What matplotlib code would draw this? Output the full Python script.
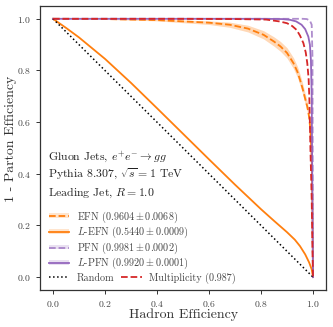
import numpy as np
import matplotlib.pyplot as plt
from matplotlib.patches import Patch

plt.rcParams['font.family'] = 'serif'
plt.rcParams['font.serif'] = ['cmr10']
plt.rcParams['mathtext.fontset'] = 'cm'
plt.rcParams['axes.formatter.use_mathtext'] = True

# ROC curves: x = hadron efficiency, y = 1 - parton efficiency
efn_x = [0, 0.2, 0.4, 0.5, 0.6, 0.68, 0.75, 0.81, 0.85, 0.875, 0.9, 0.925, 0.94,
         0.95, 0.96, 0.97, 0.978, 0.985, 0.99, 0.995, 0.998, 1.0]
efn_y = [1.0, 0.999, 0.995, 0.99, 0.985, 0.977, 0.962, 0.938, 0.912, 0.893, 0.868,
         0.828, 0.795, 0.764, 0.73, 0.69, 0.66, 0.62, 0.57, 0.46, 0.25, 0.0]
efn_err = [0, 0.001, 0.003, 0.005, 0.007, 0.010, 0.013, 0.016, 0.018, 0.019, 0.020,
           0.021, 0.021, 0.021, 0.021, 0.020, 0.019, 0.018, 0.016, 0.012, 0.008, 0]

lefn_x = [0, 0.05, 0.1, 0.2, 0.3, 0.4, 0.5, 0.6, 0.7, 0.8, 0.85, 0.9, 0.93, 0.95,
          0.97, 0.985, 0.995, 1.0]
lefn_y = [1.0, 0.965, 0.928, 0.845, 0.752, 0.654, 0.555, 0.456, 0.358, 0.263,
          0.218, 0.174, 0.145, 0.12, 0.088, 0.057, 0.03, 0.0]

pfn_x = [0, 0.9, 0.96, 0.976, 0.988, 0.995, 0.998, 1.0]
pfn_y = [1.0, 1.0, 1.0, 0.999, 0.993, 0.977, 0.85, 0.0]

lpfn_x = [0, 0.8, 0.88, 0.912, 0.935, 0.956, 0.97, 0.982, 0.988, 0.992, 0.995, 0.997, 1.0]
lpfn_y = [1.0, 1.0, 0.999, 0.996, 0.99, 0.977, 0.96, 0.931, 0.9, 0.84, 0.7, 0.4, 0.0]

mult_x = [0, 0.5, 0.7, 0.82, 0.87, 0.9, 0.92, 0.937, 0.95, 0.963, 0.972, 0.978,
          0.983, 0.986, 0.99, 0.995, 0.998, 1.0]
mult_y = [1.0, 1.0, 0.999, 0.997, 0.99, 0.983, 0.972, 0.957, 0.935, 0.906, 0.87,
          0.828, 0.77, 0.69, 0.5, 0.3, 0.1, 0.0]

rand_x = [0, 1]
rand_y = [1, 0]

labels = [r'EFN $(0.9604 \pm 0.0068)$', r'$L$-EFN $(0.5440 \pm 0.0009)$',
          r'PFN $(0.9981 \pm 0.0002)$', r'$L$-PFN $(0.9920 \pm 0.0001)$']
rand_label = 'Random'
mult_label = 'Multiplicity (0.987)'
info_lines = [r'Gluon Jets, $e^{+}e^{-} \to gg$',
              r'Pythia 8.307, $\sqrt{s} = 1$ TeV',
              r'Leading Jet, $R = 1.0$']

orange = '#ff7f0e'
purple = '#9467bd'
red = '#d62728'

fig = plt.figure(figsize=(3.33, 3.27), dpi=100)
ax = fig.add_axes([0.120, 0.113, 0.859, 0.869])

efn_y = np.array(efn_y)
efn_err = np.array(efn_err)
ax.fill_between(efn_x, efn_y - efn_err, efn_y + efn_err, color=orange, alpha=0.3, lw=0)
l1, = ax.plot(efn_x, efn_y, color=orange, ls='--', lw=1.3)
l2, = ax.plot(lefn_x, lefn_y, color=orange, ls='-', lw=1.3)
l3, = ax.plot(pfn_x, pfn_y, color=purple, ls='--', lw=1.3, alpha=0.75)
l4, = ax.plot(lpfn_x, lpfn_y, color=purple, ls='-', lw=1.3)
l5, = ax.plot(rand_x, rand_y, color='black', ls=':', lw=1.1)
l6, = ax.plot(mult_x, mult_y, color=red, ls='--', lw=1.3, zorder=3)

ax.set_xlim(-0.05, 1.05)
ax.set_ylim(-0.05, 1.05)
ax.set_xticks(np.arange(0, 1.01, 0.2))
ax.set_yticks(np.arange(0, 1.01, 0.2))
ax.tick_params(labelsize=7, length=3, width=0.7, colors='#333333', labelcolor='#444444')
for s in ax.spines.values():
    s.set_color('#333333')
    s.set_linewidth(0.9)
ax.set_xlabel('Hadron Efficiency', fontsize=10, color='#333333')
ax.set_ylabel('1 - Parton Efficiency', fontsize=10, color='#333333')
ax.xaxis.set_label_coords(0.502, -0.066)
ax.yaxis.set_label_coords(-0.08, 0.532)

for i, t in enumerate(info_lines):
    ax.text(0.028, 0.468 - i * 0.063, t, fontsize=8.5, va='center', ha='left',
            color='#222222', transform=ax.transAxes)

handles = [(Patch(color=orange, alpha=0.2, lw=0), l1),
           (Patch(color=orange, alpha=0.2, lw=0), l2),
           (Patch(color=purple, alpha=0.2, lw=0), l3),
           (Patch(color=purple, alpha=0.2, lw=0), l4)]
leg1 = ax.legend(handles, labels, loc='upper left', bbox_to_anchor=(0.031, 0.284),
                 frameon=False, fontsize=7.3, labelspacing=0.03, handlelength=2.0,
                 handletextpad=0.77, borderaxespad=0, borderpad=0, handleheight=0.35)
for txt in leg1.get_texts():
    txt.set_color('#444444')
ax.add_artist(leg1)
leg2 = ax.legend([l5, l6], [rand_label, mult_label], loc='upper left',
                 bbox_to_anchor=(0.031, 0.061), ncol=2, frameon=False, fontsize=7.3,
                 handlelength=2.0, handletextpad=0.77, columnspacing=0.67,
                 borderaxespad=0, borderpad=0)
for txt in leg2.get_texts():
    txt.set_color('#444444')

fig.savefig('out.png', dpi=100)
